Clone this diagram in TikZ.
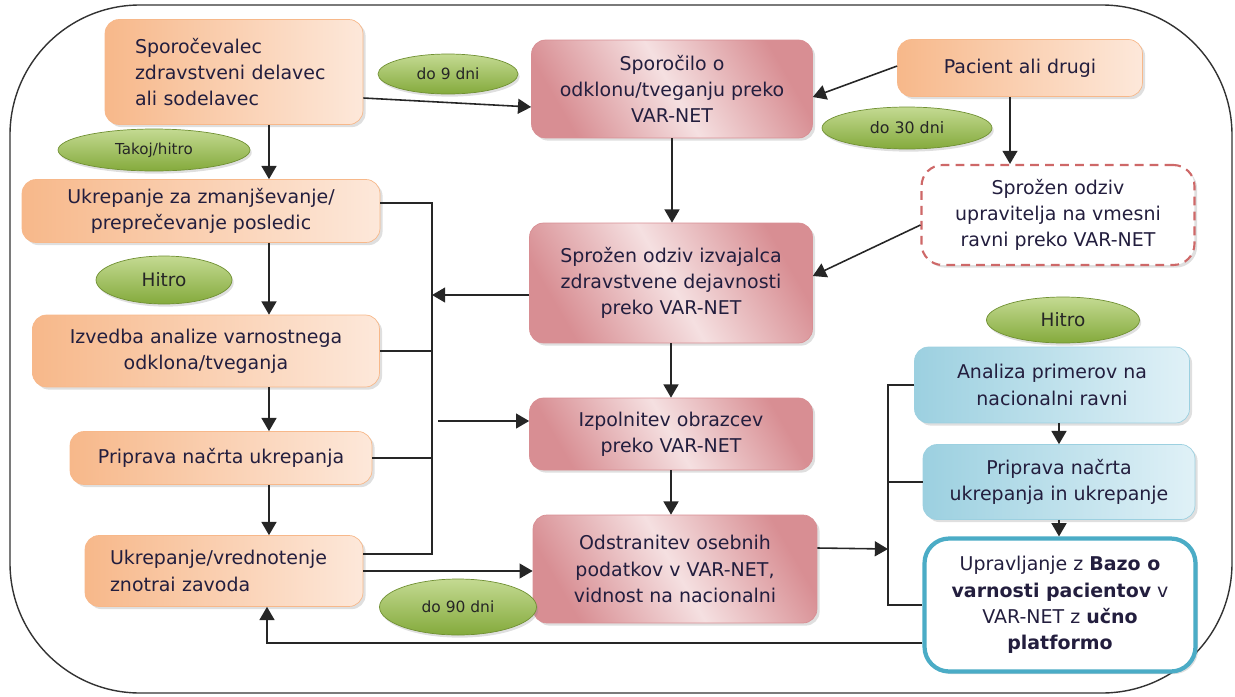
\documentclass[tikz,border=0pt]{standalone}
\usepackage{fontspec}
\setmainfont{DejaVu Sans}
\usetikzlibrary{arrows.meta, shapes.geometric, shadows, calc}

\definecolor{orgD}{RGB}{247,184,138}
\definecolor{orgL}{RGB}{253,232,218}
\definecolor{pnkD}{RGB}{216,142,147}
\definecolor{pnkL}{RGB}{245,224,225}
\definecolor{bluD}{RGB}{156,208,224}
\definecolor{bluL}{RGB}{224,241,247}
\definecolor{grnD}{RGB}{132,170,60}
\definecolor{grnL}{RGB}{196,218,146}
\definecolor{txt}{RGB}{35,30,62}
\definecolor{rim}{RGB}{75,172,198}
\definecolor{dashred}{RGB}{206,104,104}

\tikzset{
  box/.style={rounded corners=8pt, align=center, text=txt, inner sep=2pt,
    font=\fontsize{10.8}{15}\selectfont,
    drop shadow={opacity=0.25, shadow xshift=1.5pt, shadow yshift=-1.5pt}},
  orangebox/.style={box, left color=orgD, right color=orgL, draw=orgD},
  pinkbox/.style={box, left color=pnkD, right color=pnkD, middle color=pnkL, shading angle=120, draw=pnkD},
  bluebox/.style={box, left color=bluD, right color=bluL, draw=bluD},
  oval/.style={ellipse, top color=grnL, bottom color=grnD, draw=grnD!85!black,
    text=black!85, inner sep=0pt,
    drop shadow={opacity=0.25, shadow xshift=1pt, shadow yshift=-1.5pt}},
  line/.style={draw=black!85, line width=0.9pt},
  arr/.style={line, -{Triangle[length=7.5pt, width=8.5pt]}}
}

\begin{document}
\begin{tikzpicture}[x=0.02cm, y=-0.02cm]
\useasboundingbox (0,0) rectangle (1235,697);
% frame
\draw[black!80, line width=0.8pt, rounded corners=2.6cm] (10,5) rectangle (1232,693);

% left column
\node[orangebox, minimum width=5.16cm, minimum height=2.1cm, text width=3.96cm, align=left] (spor) at (234,72) {Sporočevalec\\zdravstveni delavec\\ali sodelavec};
\node[orangebox, minimum width=7.16cm, minimum height=1.26cm] (ukz) at (201,211) {Ukrepanje za zmanjševanje/\\preprečevanje posledic};
\node[orangebox, minimum width=6.94cm, minimum height=1.44cm] (izv) at (206,351) {Izvedba analize varnostnega\\odklona/tveganja};
\node[orangebox, minimum width=6.04cm, minimum height=1.06cm] (prip) at (221,458) {Priprava načrta ukrepanja};
\node[orangebox, minimum width=5.56cm, minimum height=1.42cm, text width=4.56cm, align=left] (ukv) at (224,571) {Ukrepanje/vrednotenje\\znotrai zavoda};

% middle column
\node[pinkbox, minimum width=5.62cm, minimum height=1.96cm] (sporo) at (672,89) {Sporočilo o\\odklonu/tveganju preko\\VAR-NET};
\node[pinkbox, minimum width=5.66cm, minimum height=2.4cm] (izvaj) at (671,283) {Sprožen odziv izvajalca\\zdravstvene dejavnosti\\preko VAR-NET};
\node[pinkbox, minimum width=5.66cm, minimum height=1.44cm] (izpol) at (671,434) {Izpolnitev obrazcev\\preko VAR-NET};
\node[pinkbox, minimum width=5.68cm, minimum height=2.16cm] (odstr) at (675,569) {Odstranitev osebnih\\podatkov v VAR-NET,\\vidnost na nacionalni};

% right column
\node[orangebox, minimum width=4.9cm, minimum height=1.14cm] (pac) at (1020,68) {Pacient ali drugi};
\node[box, drop shadow={opacity=0}, fill=white, draw=dashred, line width=1.2pt, dash pattern=on 5pt off 3.5pt, rounded corners=12pt, minimum width=5.46cm, minimum height=2cm] (uprv) at (1058,215) {Sprožen odziv\\upravitelja na vmesni\\ravni preko VAR-NET};
\node[bluebox, minimum width=5.5cm, minimum height=1.52cm] (anal) at (1052,385) {Analiza primerov na\\nacionalni ravni};
\node[bluebox, minimum width=5.44cm, minimum height=1.5cm] (prip2) at (1059,482) {Priprava načrta\\ukrepanja in ukrepanje};
\node[box, drop shadow={opacity=0}, fill=white, draw=rim, line width=2.4pt, rounded corners=14pt, minimum width=5.42cm, minimum height=2.66cm] (uprav) at (1060,605) {Upravljanje z \textbf{Bazo o}\\\textbf{varnosti pacientov} v\\VAR-NET z \textbf{učno}\\\textbf{platformo}};

% time ovals
\node[oval, minimum width=2.8cm, minimum height=0.8cm, font=\fontsize{8.8}{10}\selectfont] (d9) at (448,74) {do 9 dni};
\node[oval, minimum width=3.84cm, minimum height=0.84cm, font=\fontsize{8.6}{10}\selectfont] (tak) at (154,150) {Takoj/hitro};
\node[oval, minimum width=3.4cm, minimum height=0.84cm, font=\fontsize{9}{10}\selectfont] (d30) at (907,128) {do 30 dni};
\node[oval, minimum width=2.72cm, minimum height=0.96cm, font=\fontsize{10.5}{12}\selectfont] (hit1) at (164,280) {Hitro};
\node[oval, minimum width=3.06cm, minimum height=0.92cm, font=\fontsize{10.5}{12}\selectfont] (hit2) at (1063,320) {Hitro};
\node[oval, minimum width=3.14cm, minimum height=1.12cm, font=\fontsize{8.8}{10}\selectfont] (d90) at (458,607) {do 90 dni};

% helper points
\coordinate (colL) at (269,0);
\coordinate (busL) at (432,295);
\coordinate (busB) at (432,554);
\coordinate (busI) at (438,421);
\coordinate (busR) at (888,549);
\coordinate (colP) at (1010,0);

% left chain
\draw[arr] (spor.south -| colL) -- (ukz.north -| colL);
\draw[arr] (ukz.south -| colL) -- (izv.north -| colL);
\draw[arr] (izv.south -| colL) -- (prip.north -| colL);
\draw[arr] (prip.south -| colL) -- (ukv.north -| colL);

% left bus
\draw[line] ($(ukz.east)+(0,-8)$) -| (busB) -- ($(ukv.east)+(0,-17)$);
\draw[line] (izv.east) -- (izv.east -| busB);
\draw[line] (prip.east) -- (prip.east -| busB);
\draw[arr] ($(izvaj.west)+(0,12)$) -- (busL);
\draw[arr] (busI) -- (busI -| izpol.west);

% middle chain
\draw[arr] ($(spor.east)+(0,26)$) -- ($(sporo.west)+(0,18)$);
\draw[arr] ($(pac.west)+(0,-2)$) -- ($(sporo.east)+(0,8)$);
\draw[arr] (pac.south -| colP) -- (uprv.north -| colP);
\draw[arr] ($(uprv.west)+(0,10)$) -- ($(izvaj.east)+(0,-7)$);
\draw[arr] (sporo.south) -- (sporo.south |- izvaj.north);
\draw[arr] (izvaj.south) -- (izpol.north);
\draw[arr] (izpol.south) -- (izpol.south |- odstr.north);
\draw[arr] (ukv.east) -- (ukv.east -| odstr.west);

% right bus
\draw[arr] ($(odstr.east)+(0,-21)$) -- (busR);
\draw[line] (anal.west) -| (uprav.west -| busR) -- (uprav.west);
\draw[line] (prip2.west) -- (prip2.west -| busR);
\draw[arr] (prip2.north |- anal.south) -- (prip2.north);
\draw[arr] (prip2.south) -- (prip2.south |- uprav.north);

% feedback
\draw[arr] ($(uprav.west)+(0,38)$) -| ($(ukv.south)+(43,0)$);
\end{tikzpicture}
\end{document}
